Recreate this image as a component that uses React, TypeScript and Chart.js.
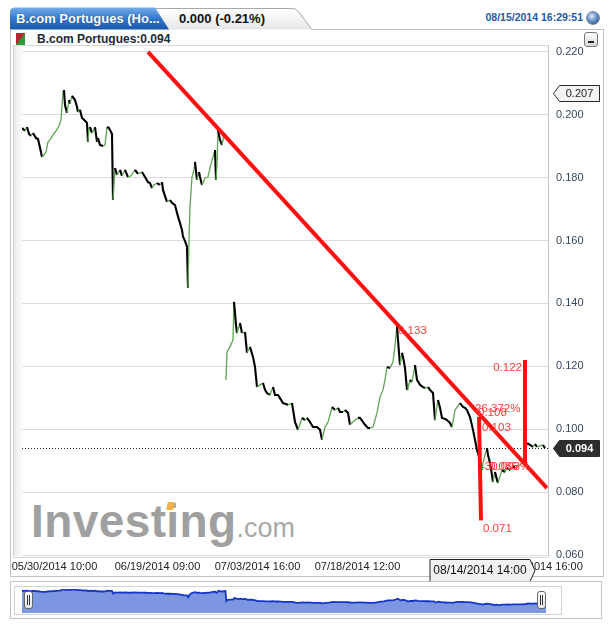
import React, { useEffect, useRef } from "react";
import { Chart, registerables } from "chart.js";

Chart.register(...registerables);

const FONT = "'Liberation Sans', Arial, Helvetica, sans-serif";

// ---- price series (bar index, price) ----
const seg1Bars = [0,3,5,7,9,11,14,16,18,20,22,24,26,28,31,34,37,39,41,42,43,45,47,48,50,53,55,56,58,60,63,65,66,67,68,70,73,75,76,78,81,83,85,87,88,90,91,92,93,95,98,100,103,106,109,113,116,120,123,126,128,130,132,135,138,140,141,143,145,148,150,153,155,157,158,160,161,163,165,166,167,168,170,172,173,175,177,178,180,181,183,186,188,191,193,194,195,196,198,200,202,203];
const seg1Prices = [0.1958,0.1949,0.1961,0.1939,0.1933,0.1942,0.1926,0.1923,0.1895,0.1866,0.1872,0.1882,0.1914,0.1920,0.1936,0.1949,0.1965,0.1984,0.2073,0.2079,0.2031,0.2006,0.2047,0.2035,0.2060,0.2047,0.2025,0.2009,0.2016,0.1990,0.1981,0.1974,0.1914,0.1958,0.1961,0.1942,0.1961,0.1914,0.1926,0.1904,0.1901,0.1904,0.1961,0.1958,0.1952,0.1939,0.1729,0.1777,0.1831,0.1809,0.1825,0.1806,0.1825,0.1802,0.1806,0.1825,0.1812,0.1818,0.1802,0.1786,0.1783,0.1767,0.1777,0.1783,0.1777,0.1786,0.1761,0.1742,0.1723,0.1729,0.1720,0.1713,0.1688,0.1666,0.1656,0.1634,0.1612,0.1599,0.1580,0.1449,0.1602,0.1707,0.1802,0.1825,0.1850,0.1793,0.1818,0.1802,0.1777,0.1783,0.1799,0.1802,0.1831,0.1866,0.1888,0.1793,0.1841,0.1952,0.1920,0.1904,0.1936,0.1942];
const gapBar = 203.5;
const seg2Bars = [204,205,208,211,212,214,215,218,220,223,225,228,231,233,235,238,241,243,245,248,251,253,256,258,261,264,266,270,273,276,278,280,283,285,288,291,295,298,300,303,306,308,310,313,316,318,321,323,326,328,331,333,336,338,341,343,346,348,351,353,355,358,361,363,365,368,371,373,375,376,378,380,381,383,385,386,388,390,393,395,398,401,403,406,408,411,413,416,418,420,423,425,428,430,433,436,438,441,443,445,448,451,453,455,458,460,461,463,465,466,468,470,471,473,475,476,478,480,483,485,488,491,493,495,498,500,503,505,508,511,513,515,518,521,523];
const seg2Prices = [0.1157,0.1246,0.1262,0.1284,0.1405,0.1332,0.1306,0.1338,0.1306,0.1309,0.1243,0.1262,0.1230,0.1198,0.1134,0.1141,0.1147,0.1125,0.1115,0.1109,0.1134,0.1109,0.1109,0.1099,0.1083,0.1080,0.1077,0.1083,0.1023,0.0998,0.1017,0.1036,0.1029,0.1036,0.1023,0.1007,0.1007,0.0998,0.0966,0.1007,0.1023,0.1045,0.1071,0.1061,0.1068,0.1055,0.1055,0.1061,0.1052,0.1014,0.1023,0.1029,0.1036,0.1036,0.1023,0.1014,0.1004,0.1004,0.1007,0.1029,0.1052,0.1103,0.1125,0.1157,0.1198,0.1195,0.1214,0.1268,0.1328,0.1284,0.1204,0.1243,0.1230,0.1195,0.1125,0.1131,0.1157,0.1150,0.1204,0.1157,0.1141,0.1134,0.1131,0.1134,0.1125,0.1115,0.1029,0.1093,0.1068,0.1036,0.1033,0.1029,0.1020,0.1007,0.1061,0.1074,0.1083,0.1071,0.1068,0.1061,0.1039,0.0998,0.0966,0.0934,0.0902,0.0870,0.0893,0.0918,0.0940,0.0918,0.0893,0.0854,0.0832,0.0864,0.0839,0.0829,0.0851,0.0870,0.0864,0.0877,0.0870,0.0883,0.0877,0.0880,0.0886,0.0893,0.0909,0.0956,0.0950,0.0944,0.0953,0.0944,0.0947,0.0950,0.0940];

// ---- axes ----
const yMin = 0.06;
const yMax = 0.2222;
const yTickValues = [0.06, 0.08, 0.1, 0.12, 0.14, 0.16, 0.18, 0.2, 0.22];
const xMin = 0;
const xMax = 526;
const xTickBars = [32.5, 135.5, 235.5, 335.5, 518];
const xTickLabels = ["05/30/2014 10:00", "06/19/2014 09:00", "07/03/2014 16:00", "07/18/2014 12:00", "08/15/2014 16:00"];
const crosshairBar = 460;
const crosshairLabel = "08/14/2014 14:00";

const lastPrice = 0.094;
const highMarker = 0.207;

// ---- drawn tools ----
const trendBars = [126, 525];
const trendPrices = [0.22, 0.0813];
const dropBars = [457, 459];
const dropPrices = [0.1039, 0.071];
const riseBars = [503, 503];
const risePrices = [0.122, 0.0892];

const noteTexts = ["0.133", "0.122", "26.372%", "0.108", "0.103", "-30.093%", "0.085", "0.071"];
const noteBars = [376, 500, 453, 456, 460, 459, 467, 461];
const notePrices = [0.1313, 0.1195, 0.1064, 0.1052, 0.1004, 0.088, 0.088, 0.0683];
const noteAlign = ["left", "right", "left", "left", "left", "left", "left", "left"];

// navigator range
const navMin = 0.02;
const navMax = 0.21;

const toPoints = (bars: number[], vals: number[]) => bars.map((b, i) => ({ x: b, y: vals[i] }));

const overlayPlugin = {
  id: "overlay",
  beforeDatasetsDraw(chart: any) {
    const { ctx, chartArea, scales } = chart;
    const py = Math.round(scales.y.getPixelForValue(lastPrice)) + 0.5;
    ctx.save();
    ctx.strokeStyle = "#222";
    ctx.lineWidth = 1;
    ctx.setLineDash([1, 2]);
    ctx.beginPath();
    ctx.moveTo(chartArea.left, py);
    ctx.lineTo(chartArea.right, py);
    ctx.stroke();
    ctx.restore();
  },
  afterDatasetsDraw(chart: any) {
    const { ctx, scales } = chart;
    ctx.save();
    ctx.font = `11.5px ${FONT}`;
    ctx.fillStyle = "#ff3a3a";
    ctx.textBaseline = "middle";
    noteTexts.forEach((t, i) => {
      ctx.textAlign = noteAlign[i];
      ctx.fillText(t, scales.x.getPixelForValue(noteBars[i]), scales.y.getPixelForValue(notePrices[i]));
    });
    ctx.restore();
  },
  afterDraw(chart: any) {
    const { ctx, scales, chartArea } = chart;
    ctx.save();
    // x labels
    ctx.font = `11px ${FONT}`;
    ctx.fillStyle = "#222";
    ctx.textAlign = "center";
    ctx.textBaseline = "middle";
    xTickBars.forEach((b, i) => {
      ctx.fillText(xTickLabels[i], scales.x.getPixelForValue(b), 567);
    });
    // crosshair label box
    const cx = scales.x.getPixelForValue(crosshairBar);
    const top = 559.5, bot = 581.5;
    ctx.beginPath();
    ctx.moveTo(cx - 52, top);
    ctx.lineTo(cx + 48, top);
    ctx.lineTo(cx + 53, (top + bot) / 2);
    ctx.lineTo(cx + 48, bot);
    ctx.lineTo(cx - 52, bot);
    ctx.closePath();
    ctx.fillStyle = "#f1f1f1";
    ctx.fill();
    ctx.strokeStyle = "#222";
    ctx.lineWidth = 1;
    ctx.stroke();
    ctx.fillStyle = "#111";
    ctx.font = `12px ${FONT}`;
    ctx.fillText(crosshairLabel, cx - 2, 571);

    // price markers on right axis
    const marker = (val: number, bg: string, fg: string, bold: boolean) => {
      const y = Math.round(scales.y.getPixelForValue(val)) + 0.5;
      const x0 = chartArea.right + 5.5;
      const w = 46, h = 16;
      ctx.beginPath();
      ctx.moveTo(x0, y);
      ctx.lineTo(x0 + 6, y - h / 2);
      ctx.lineTo(x0 + w, y - h / 2);
      ctx.lineTo(x0 + w, y + h / 2);
      ctx.lineTo(x0 + 6, y + h / 2);
      ctx.closePath();
      ctx.fillStyle = bg;
      ctx.fill();
      ctx.strokeStyle = "#2a2a2a";
      ctx.stroke();
      ctx.fillStyle = fg;
      ctx.font = `${bold ? "bold " : ""}11px ${FONT}`;
      ctx.textAlign = "center";
      ctx.fillText(val.toFixed(3), x0 + 6 + (w - 6) / 2, y + 0.5);
    };
    marker(highMarker, "#f3f3f3", "#222", false);
    marker(lastPrice, "#2e2e2e", "#fff", true);
    ctx.restore();
  },
};

function MainChart() {
  const ref = useRef<HTMLCanvasElement>(null);
  useEffect(() => {
    if (!ref.current) return;
    const pricePoints = [
      ...toPoints(seg1Bars, seg1Prices),
      { x: gapBar, y: null as any },
      ...toPoints(seg2Bars, seg2Prices),
    ];
    const redLine = (bars: number[], vals: number[]) => ({
      data: toPoints(bars, vals),
      borderColor: "#ff1010",
      borderWidth: 4,
      pointRadius: 0,
      order: 0,
      borderCapStyle: "butt" as const,
    });
    const chart = new Chart(ref.current, {
      type: "line",
      data: {
        datasets: [
          redLine(trendBars, trendPrices),
          redLine(dropBars, dropPrices),
          redLine(riseBars, risePrices),
          {
            data: pricePoints,
            borderColor: "#000",
            borderWidth: 2,
            pointRadius: 0,
            spanGaps: false,
            order: 1,
            segment: {
              borderColor: (c: any) => (c.p1.parsed.y > c.p0.parsed.y ? "#5da552" : "#000"),
              borderWidth: (c: any) => (c.p1.parsed.y > c.p0.parsed.y ? 1.3 : 2.1),
            },
          } as any,
        ],
      },
      options: {
        responsive: false,
        animation: false,
        layout: { padding: { left: 22, top: 45, right: 0, bottom: 72 } },
        plugins: { legend: { display: false }, tooltip: { enabled: false } },
        scales: {
          x: { type: "linear", min: xMin, max: xMax, display: false },
          y: {
            position: "right",
            min: yMin,
            max: yMax,
            afterFit: (s: any) => {
              s.width = 65;
            },
            afterBuildTicks: (s: any) => {
              s.ticks = yTickValues.map((v) => ({ value: v }));
            },
            grid: { color: "#dcdcdc", drawTicks: false },
            border: { display: true, color: "#c6c6c6" },
            ticks: {
              padding: 8,
              color: "#34485c",
              font: { size: 11, family: FONT },
              callback: (v: any) => Number(v).toFixed(3),
            },
          },
        },
      },
      plugins: [overlayPlugin],
    });
    return () => chart.destroy();
  }, []);
  return <canvas ref={ref} width={613} height={627} style={{ position: "absolute", left: 0, top: 0 }} />;
}

function NavChart() {
  const ref = useRef<HTMLCanvasElement>(null);
  useEffect(() => {
    if (!ref.current) return;
    const pts = [...toPoints(seg1Bars, seg1Prices), ...toPoints(seg2Bars, seg2Prices)];
    const chart = new Chart(ref.current, {
      type: "line",
      data: {
        datasets: [
          {
            data: pts,
            borderColor: "#1535c4",
            borderWidth: 1.8,
            backgroundColor: "#7d96e2",
            fill: "start",
            pointRadius: 0,
          },
        ],
      },
      options: {
        responsive: false,
        animation: false,
        layout: { padding: 0 },
        plugins: { legend: { display: false }, tooltip: { enabled: false } },
        scales: {
          x: { type: "linear", min: 0, max: 523, display: false },
          y: { min: navMin, max: navMax, display: false },
        },
      },
    });
    return () => chart.destroy();
  }, []);
  return <canvas ref={ref} width={524} height={24} style={{ position: "absolute", left: 22, top: 589 }} />;
}

const abs = (s: React.CSSProperties): React.CSSProperties => ({ position: "absolute", ...s });

function Handle({ left }: { left: number }) {
  return (
    <div style={abs({ left, top: 591, width: 7, height: 16, background: "linear-gradient(#fff,#e4e4e4)", border: "1px solid #666", borderRadius: 3 })}>
      <div style={abs({ left: 2, top: 3, width: 1, height: 10, background: "#333" })} />
      <div style={abs({ left: 4, top: 3, width: 1, height: 10, background: "#333" })} />
    </div>
  );
}

export default function App() {
  return (
    <div style={abs({ left: 0, top: 0, width: 613, height: 627, overflow: "hidden", background: "#fff", fontFamily: FONT })}>
      {/* tabs */}
      <svg width={613} height={40} style={abs({ left: 0, top: 0 })}>
        <defs>
          <linearGradient id="tb1" x1="0" y1="0" x2="0" y2="1">
            <stop offset="0" stopColor="#74aeea" />
            <stop offset="0.5" stopColor="#3478cc" />
            <stop offset="1" stopColor="#1b58ad" />
          </linearGradient>
          <linearGradient id="tb2" x1="0" y1="0" x2="0" y2="1">
            <stop offset="0" stopColor="#ffffff" />
            <stop offset="1" stopColor="#e6e8eb" />
          </linearGradient>
        </defs>
        <path d="M150,29.5 L150,8.5 L292,8.5 Q296,8.5 298,11 L312,29.5" fill="url(#tb2)" stroke="#a9a9a9" />
        <path d="M10,29.5 L10,12 Q10,7.5 15,7.5 L155,7.5 L169,29.5 Z" fill="url(#tb1)" />
        <line x1={312} y1={29.5} x2={603} y2={29.5} stroke="#bdbdbd" />
      </svg>
      <div style={abs({ left: 16, top: 8, height: 21, lineHeight: "21px", color: "#fff", fontWeight: "bold", fontSize: 13, whiteSpace: "nowrap", textShadow: "0 0 1px #0d3a78" })}>
        B.com Portugues (Ho...
      </div>
      <div style={abs({ left: 179, top: 8, height: 21, lineHeight: "21px", color: "#111", fontWeight: "bold", fontSize: 13, whiteSpace: "nowrap" })}>
        0.000 (-0.21%)
      </div>
      <div style={abs({ right: 30, top: 10, lineHeight: "14px", color: "#2458a8", fontWeight: "bold", fontSize: 10.5, whiteSpace: "nowrap" })}>
        08/15/2014 16:29:51
      </div>
      <div style={abs({ left: 586, top: 11, width: 12, height: 12, borderRadius: "50%", border: "1px solid #7f8aa0", background: "radial-gradient(circle at 40% 35%, #dfeaf8 0%, #6b92cc 45%, #1f3f78 100%)" })} />

      {/* main panel */}
      <div style={abs({ left: 10, top: 29, width: 592, height: 547, borderLeft: "1px solid #c3c3c3", borderRight: "1px solid #c3c3c3", borderBottom: "1px solid #c3c3c3" })} />
      <div style={abs({ left: 16, top: 33, width: 9, height: 12, background: "linear-gradient(to bottom right, #b3282a 50%, #2d9a36 50%)" })} />
      <div style={abs({ left: 37, top: 32, lineHeight: "14px", fontSize: 12, fontWeight: "bold", color: "#1d2a38", whiteSpace: "nowrap" })}>
        B.com Portugues:0.094
      </div>
      <div style={abs({ left: 584, top: 32, width: 12, height: 13, border: "1px solid #777", borderRadius: 3, background: "linear-gradient(#ffffff,#d8d8d8)" })}>
        <div style={abs({ left: 3, top: 8, width: 6, height: 2, background: "#222" })} />
      </div>

      {/* plot box */}
      <div style={abs({ left: 13, top: 45, width: 535, height: 511, borderLeft: "1px solid #cfcfcf", borderTop: "1px solid #d6d6d6", borderBottom: "1px solid #d6d6d6" })} />
      <div style={abs({ left: 14, top: 46, width: 8, height: 510, background: "linear-gradient(to right, #ececec, #fafafa)" })} />

      {/* watermark */}
      <div style={abs({ left: 31, top: 498, lineHeight: "46px", whiteSpace: "nowrap", color: "#a0a0a0" })}>
        <span style={{ fontSize: 46, fontWeight: "bold", letterSpacing: 0.4 }}>Investing</span>
        <span style={{ fontSize: 27, color: "#a8a8a8" }}>.com</span>
      </div>
      <div style={abs({ left: 167, top: 502, width: 7, height: 8, background: "#f4b24a", transform: "skewX(-12deg)" })} />

      <MainChart />

      {/* navigator */}
      <div style={abs({ left: 10, top: 581, width: 592, height: 38, border: "1px solid #c3c3c3", boxSizing: "border-box" })} />
      <div style={abs({ left: 14, top: 586, width: 548, height: 29, border: "1px solid #d2d2d2", boxSizing: "border-box" })} />
      <NavChart />
      <Handle left={24} />
      <Handle left={537} />
    </div>
  );
}
